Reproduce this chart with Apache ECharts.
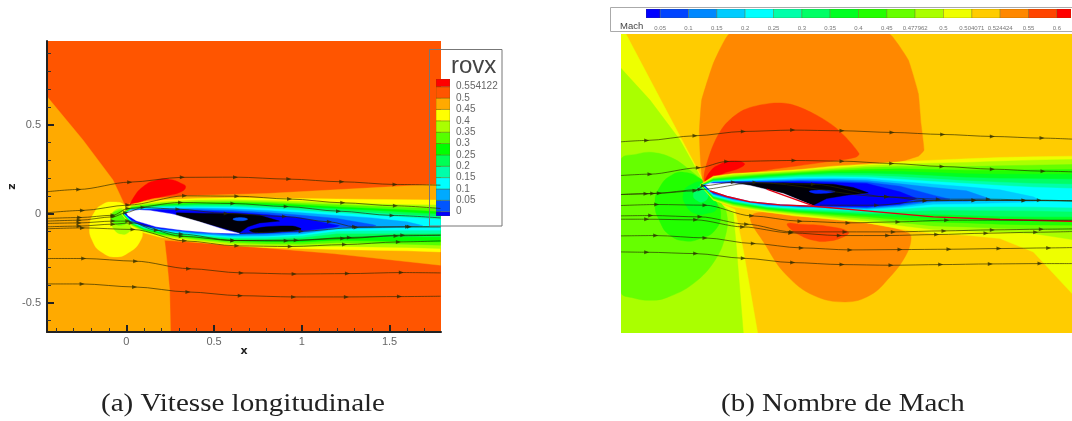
<!DOCTYPE html>
<html><head><meta charset="utf-8">
<script src="https://cdn.jsdelivr.net/npm/echarts@6/dist/echarts.min.js"></script>
<style>html,body{margin:0;padding:0;background:#fff}#c{width:1072px;height:421px}</style>
</head><body><div id="c"></div>
<script>
// ---------- legend levels ----------
const rovxLabels = ['0','0.05','0.1','0.15','0.2','0.25','0.3','0.35','0.4','0.45','0.5','0.554122'];
const machLabels = ['0.05','0.1','0.15','0.2','0.25','0.3','0.35','0.4','0.45','0.477962','0.5','0.504071','0.524424','0.55','0.6'];

// ---------- left panel: rovx contour outlines (x, z) ----------
const lStations = [0.03,0.10,0.20,0.40,0.60,0.80,1.00,1.20,1.40,1.60,1.79];
const lUpYellow = [.054,.068,.077,.086,.090,.088,.086,.083,.081,.079,.077];
const lUpAAFF = [.045,.056,.066,.077,.079,.075,.069,.062,.056,.051,.049];
const lUp55FF = [.038,.049,.058,.068,.069,.066,.058,.051,.043,.036,.030];
const lUp00FF = [.034,.043,.053,.060,.062,.058,.049,.039,.030,.021,.011];
const lUp0F5 = [.030,.039,.047,.054,.054,.049,.039,.028,.019,.008,-.002];
const lUp0FA = [.026,.036,.041,.047,.047,.039,.028,.017,.006,-.006,-.017];
const lUpCyan = [.024,.032,.038,.039,.038,.030,.017,.004,-.008,-.021,-.032];
const lUp0AF = [.023,.028,.032,.032,.028,.019,.006,-.009,-.023,-.045];
const lUp05F = [.021,.024,.026,.024,.019,.008,-.008,-.026,-.060];
const lUp00F = [.019,.023,.023,.017,.009,-.004,-.023,-.064];
const lLoYellow = [-.073,-.107,-.133,-.158,-.180,-.189,-.195,-.201,-.204,-.208,-.214];
const lLoAAFF = [-.066,-.099,-.126,-.150,-.171,-.180,-.184,-.182,-.186,-.189,-.195];
const lLo55FF = [-.062,-.094,-.118,-.143,-.161,-.169,-.171,-.163,-.167,-.171,-.176];
const lLo00FF = [-.056,-.088,-.113,-.135,-.152,-.159,-.159,-.148,-.152,-.156,-.158];
const lLo0F5 = [-.053,-.084,-.107,-.129,-.144,-.150,-.146,-.129,-.129,-.129,-.129];
const lLo0FA = [-.049,-.081,-.101,-.124,-.139,-.141,-.133,-.111,-.111,-.111,-.111];
const lLoCyan = [-.045,-.077,-.096,-.118,-.133,-.131,-.122,-.096,-.094,-.092,-.092];
const lLo0AF = [-.041,-.073,-.090,-.113,-.126,-.124,-.113,-.084,-.081,-.075];
const lLo05F = [-.038,-.069,-.086,-.107,-.118,-.114,-.103,-.077,-.073];
const lLo00F = [-.034,-.066,-.083,-.101,-.113,-.107,-.096,-.073];
const lOrange = [[-.452,.659],[-.247,.415],[-.076,.190],[-.004,.039],[.038,.077],[.342,.101],[.797,.114],[1.79,.167],[1.79,-.289],[1.176,-.223],[.607,-.176],[.218,-.148],[.233,-.280],[.247,-.430],[.252,-.664],[-.452,-.664]];
const lRed = [[.025,.045],[.038,.086],[.095,.152],[.171,.189],[.247,.193],[.313,.171],[.338,.152],[.313,.124],[.228,.101],[.114,.077]];
const lYellowBlob = [[-.080,.066],[-.009,.049],[.066,-.036],[.091,-.092],[.076,-.158],[.019,-.214],[-.061,-.242],[-.142,-.214],[-.190,-.158],[-.209,-.073],[-.180,.011],[-.133,.054]];
const lAAFFBlob = [[-.085,-.045],[-.076,.011],[-.009,.021],[.028,-.073],[.009,-.107],[-.028,-.114],[-.066,-.092]];
const l55FFBlob = [[-.085,-.026],[-.066,.011],[-.004,.011],[.004,-.045],[-.028,-.064],[-.066,-.054]];
const lBlack1 = [[.285,.006],[.455,.002],[.607,.002],[.759,-.008],[.873,-.041],[.759,-.051],[.693,-.073],[.645,-.107],[.417,-.045],[.285,-.008]];
const lBlack2 = [[.702,-.092],[.797,-.073],[.949,-.069],[.996,-.086],[.892,-.099],[.740,-.107]];
const lSpot = [[.607,-.030],[.649,-.021],[.691,-.030],[.649,-.039]];
const lAirfoil = [[0,.006],[.023,.017],[.076,.021],[.133,.019],[.266,-.002],[.417,-.045],[.569,-.092],[.645,-.111],[.493,-.107],[.323,-.092],[.171,-.073],[.057,-.039],[.009,-.009]];
const lStream = [
 [[-.452,.124],[-.271,.137],[.019,.178],[.319,.205],[.622,.206],[.926,.195],[1.228,.180],[1.531,.165],[1.79,.161]],
 [[-.452,.006],[-.250,.019],[.009,.049],[.332,.101],[.630,.099],[.930,.083],[1.233,.062],[1.533,.045],[1.79,.030]],
 [[-.452,-.026],[-.266,-.021],[-.076,-.008],[.009,.030],[.309,.064],[.607,.058],[.911,.041],[1.209,.015],[1.514,-.009],[1.79,-.023]],
 [[-.452,-.041],[-.269,-.036],[-.076,-.017],[-.004,.006],[.095,.036],[.294,.026],[.569,.002],[.901,-.015],[1.157,-.045],[1.300,-.073],[1.603,-.073],[1.79,-.073]],
 [[-.452,-.054],[-.269,-.051],[-.076,-.041],[.009,-.041],[.171,-.092],[.313,-.114],[.607,-.150],[.968,-.148],[1.271,-.133],[1.575,-.120],[1.79,-.120]],
 [[-.452,-.073],[-.269,-.069],[-.076,-.058],[.028,-.051],[.313,-.126],[.607,-.150],[.911,-.152],[1.233,-.139],[1.537,-.124],[1.79,-.120]],
 [[-.452,-.084],[-.250,-.079],[.038,-.088],[.332,-.152],[.630,-.180],[.934,-.184],[1.243,-.173],[1.550,-.158],[1.79,-.152]],
 [[.645,-.111],[.996,-.098],[1.309,-.077],[1.613,-.073],[1.79,-.073]],
 [[-.452,-.251],[-.243,-.251],[.053,-.266],[.355,-.308],[.655,-.332],[.956,-.338],[1.260,-.336],[1.567,-.330],[1.79,-.332]],
 [[-.452,-.394],[-.252,-.394],[.047,-.411],[.351,-.439],[.649,-.460],[.953,-.467],[1.254,-.467],[1.556,-.465],[1.79,-.463]]
];

// ---------- right panel: Mach contour outlines (x, z) ----------
const rStations = [.05,.17,.37,.57,.77,.97,1.17,1.37,1.57,1.77,1.97,2.202];
const rUpEEFF = [.054,.07,.08,.094,.114,.126,.14,.15,.158,.166,.17,.174];
const rUpAAFF = [.046,.062,.074,.086,.102,.116,.126,.132,.136,.144,.15,.154];
const rUp66FF = [.04,.054,.068,.08,.094,.106,.112,.112,.112,.116,.12,.124];
const rUp22FF = [.036,.048,.062,.074,.086,.094,.098,.094,.09,.09,.092,.094];
const rUp0F2 = [.032,.042,.056,.068,.078,.082,.082,.076,.068,.066,.066,.066];
const rUp0F6 = [.028,.036,.05,.062,.07,.07,.066,.056,.046,.04,.038,.036];
const rUp0FA = [.024,.032,.044,.056,.06,.058,.05,.038,.026,.018,.01,.006];
const rUpCyan = [.022,.028,.038,.048,.05,.048,.036,.022,.01,-.002,-.012,-.02];
const rUp0CF = [.02,.024,.032,.04,.042,.038,.022,.006,-.01,-.028,-.07];
const rUp08F = [.018,.022,.026,.032,.034,.028,.008,-.014,-.034];
const rUp04F = [.016,.02,.022,.026,.024,.018,-.006,-.06];
const rUp00F = [.014,.018,.018,.02,.016,.01,-.04];
const rLoEEFF = [-.09,-.13,-.162,-.186,-.206,-.226,-.262,-.29,-.30,-.32,-.40,-.65];
const rLoAAFF = [-.086,-.124,-.156,-.178,-.196,-.214,-.242,-.266,-.274,-.282,-.29,-.326];
const rLo66FF = [-.082,-.118,-.15,-.17,-.186,-.202,-.224,-.244,-.25,-.258,-.264,-.27];
const rLo22FF = [-.078,-.112,-.144,-.164,-.178,-.19,-.208,-.22,-.226,-.234,-.238,-.24];
const rLo0F2 = [-.074,-.108,-.14,-.158,-.17,-.18,-.192,-.20,-.206,-.214,-.218,-.218];
const rLo0F6 = [-.07,-.102,-.134,-.152,-.162,-.172,-.174,-.174,-.18,-.186,-.19,-.19];
const rLo0FA = [-.066,-.098,-.13,-.146,-.154,-.162,-.158,-.15,-.15,-.152,-.154,-.158];
const rLoCyan = [-.062,-.094,-.126,-.14,-.146,-.152,-.142,-.13,-.13,-.128,-.13,-.134];
const rLo0CF = [-.058,-.09,-.122,-.134,-.14,-.146,-.134,-.114,-.112,-.106,-.10];
const rLo08F = [-.054,-.086,-.118,-.13,-.134,-.14,-.126,-.10,-.098];
const rLo04F = [-.05,-.082,-.114,-.126,-.13,-.134,-.118,-.09];
const rLo00F = [-.046,-.078,-.11,-.122,-.126,-.13,-.114];
const rWedge = [[-.504,.906],[-.474,.906],[0,.01],[.09,-.11],[.18,-.146],[.23,-.39],[.316,-.886],[-.504,-.886]];
const rAAFF = [[-.504,.70],[-.33,.51],[-.15,.27],[-.01,.02],[.09,-.11],[.17,-.17],[.19,-.39],[.23,-.886],[-.504,-.886]];
const r66FF = [[-.504,.15],[-.41,.186],[-.31,.196],[-.19,.16],[-.09,.09],[-.01,.02],[.09,-.10],[.13,-.17],[.126,-.29],[.06,-.45],[-.07,-.59],[-.23,-.674],[-.33,-.69],[-.43,-.676],[-.504,-.64]];
const r22FF = [[-.30,-.11],[-.27,-.01],[-.20,.06],[-.12,.076],[-.03,.04],[0,.006],[.06,-.09],[.094,-.17],[.06,-.27],[-.03,-.32],[-.12,-.334],[-.21,-.30],[-.27,-.22]];
const r0F2 = [[-.13,-.05],[-.09,0],[-.01,.014],[.05,-.07],[.07,-.14],[.01,-.17],[-.06,-.17],[-.114,-.12]];
const r0F6 = [[-.07,-.06],[-.04,-.01],[0,0],[.02,-.06],[-.01,-.10],[-.05,-.09]];
const rDome = [[.146,.906],[.05,.73],[-.02,.51],[-.034,.31],[-.006,.014],[.57,.07],[1.13,.13],[1.28,.174],[1.314,.21],[1.296,.37],[1.28,.55],[1.22,.75],[1.106,.906]];
const rDome2 = [[0,.02],[.03,.19],[.11,.35],[.23,.45],[.39,.49],[.51,.486],[.65,.43],[.79,.34],[.924,.19],[.90,.166],[.73,.14],[.37,.09],[.17,.06]];
const rRed = [[.006,.02],[.03,.08],[.09,.126],[.17,.146],[.236,.13],[.21,.104],[.11,.07]];
const rLow = [[.28,-.18],[.37,-.37],[.49,-.54],[.65,-.66],[.84,-.70],[.99,-.66],[1.11,-.55],[1.20,-.43],[1.236,-.33],[1.22,-.286],[.97,-.226],[.57,-.19]];
const rLow2 = [[.496,-.23],[.57,-.234],[.73,-.246],[.86,-.28],[.83,-.31],[.73,-.336],[.65,-.33],[.57,-.30],[.51,-.26]];
const rBlack = [[.17,.01],[.47,.014],[.77,.006],[.89,-.014],[.98,-.046],[.85,-.06],[.73,-.08],[.65,-.12],[.47,-.05],[.27,-.002]];
const rSpot = [[.626,-.036],[.73,-.03],[.78,-.04],[.67,-.05]];
const rAirfoil = [[0,0],[.03,.012],[.17,.012],[.27,-.002],[.47,-.05],[.65,-.124],[.45,-.114],[.27,-.096],[.13,-.064],[.03,-.03]];
const rRedLine = [[.03,-.034],[.13,-.068],[.27,-.10],[.45,-.118],[.65,-.126],[.97,-.154],[1.37,-.19],[1.77,-.206],[2.202,-.216]];
const rRedLine2 = [[.37,-.024],[.65,-.124]];
const rStream = [
 [[-.504,.26],[-.35,.268],[-.06,.296],[.23,.322],[.526,.33],[.822,.326],[1.122,.316],[1.426,.304],[1.724,.292],[2.022,.282],[2.202,.276]],
 [[-.504,.058],[-.33,.066],[-.04,.104],[.13,.142],[.534,.148],[.822,.144],[1.12,.13],[1.422,.112],[1.724,.096],[2.028,.084],[2.202,.08]],
 [[-.504,-.056],[-.354,-.052],[-.274,-.048],[-.06,-.034],[-.01,-.004],[.17,.018],[.65,.006],[1.09,-.07],[1.322,-.092],[1.614,-.092],[1.914,-.092],[2.202,-.094]],
 [[-.504,-.056],[-.314,-.05],[-.03,-.026],[.30,.016],[1.09,-.07],[1.40,-.084],[1.70,-.084],[2.006,-.09],[2.202,-.094]],
 [[-.504,-.122],[-.29,-.116],[0,-.12],[.28,-.184],[.57,-.216],[.858,-.226],[1.158,-.22],[1.45,-.21],[2.202,-.21]],
 [[-.504,-.184],[-.326,-.182],[-.03,-.19],[.25,-.234],[.52,-.28],[.84,-.28],[1.13,-.28],[1.434,-.274],[1.724,-.268],[2.018,-.264],[2.202,-.262]],
 [[-.504,-.204],[-.35,-.204],[-.056,-.208],[.226,-.25],[.514,-.286],[.806,-.302],[1.096,-.302],[1.39,-.296],[1.686,-.288],[1.984,-.282],[2.202,-.278]],
 [[-.504,-.304],[-.296,-.302],[0,-.316],[.29,-.35],[.578,-.376],[.87,-.388],[1.17,-.386],[1.464,-.384],[1.764,-.38],[2.062,-.376],[2.202,-.374]],
 [[-.504,-.40],[-.35,-.402],[-.056,-.41],[.23,-.438],[.526,-.464],[.822,-.476],[1.116,-.48],[1.414,-.476],[1.712,-.472],[2.01,-.47],[2.202,-.47]],
 [[.69,-.12],[1.03,-.12],[1.32,-.094],[1.614,-.09],[1.914,-.092],[2.202,-.094]]
];

// ---------- colours ----------
const rovxColors = ['#0000ff','#0055ff','#00aaff','#00ffff','#00ffaa','#00ff55','#00ff00','#55ff00','#aaff00','#ffff00','#ffaa00','#ff5500','#ff0000'];
const machColors = ['#0000ff','#0044ff','#0088ff','#00ccff','#00ffff','#00ffaa','#00ff66','#00ff22','#22ff00','#66ff00','#aaff00','#eeff00','#ffcc00','#ff8800','#ff4400','#ff0000'];

// ---------- helpers ----------
function band(st, noseX, up, lo, tip) {
  const pts = [[noseX, up[0] * 0.2 + lo[0] * 0.1]];
  up.forEach((v, i) => pts.push([st[i], v]));
  if (tip) pts.push(tip);
  for (let i = lo.length - 1; i >= 0; i--) pts.push([st[i], lo[i]]);
  return pts;
}
const series = [];
let zc = 1;
function poly(axis, pts, fill, smooth, stroke) {
  const z = zc++;
  series.push({
    type: 'custom', coordinateSystem: 'cartesian2d', xAxisIndex: axis, yAxisIndex: axis,
    clip: true, silent: true, z, data: pts, animation: false,
    renderItem(params, api) {
      if (params.dataIndex !== 0) return null;
      return { type: 'polygon', shape: { points: pts.map(p => api.coord(p)), smooth: smooth || 0 },
        style: { fill, stroke: stroke || fill, lineWidth: stroke ? 1 : 0.4 } };
    }
  });
}
function stream(axis, pts) {
  series.push({
    type: 'line', xAxisIndex: axis, yAxisIndex: axis, z: 500, smooth: 0.3, smoothMonotone: 'x', silent: true, animation: false,
    lineStyle: { color: 'rgba(40,40,0,0.72)', width: 0.9 }, itemStyle: { color: 'rgba(40,40,0,0.72)' },
    symbolRotate: -90, symbolSize: [4, 5], symbol: 'triangle', clip: true,
    data: pts.map((p, i) => (i === 0 || i === pts.length - 1) ? { value: p, symbol: 'none' } : p)
  });
}

// ---------- left panel ----------
const LX = 0, RX = 1, LL = 2, RL = 3;
poly(LX, [[-.452,.971],[1.793,.971],[1.793,-.664],[-.452,-.664]], rovxColors[11]);
poly(LX, lOrange, rovxColors[10]);
poly(LX, lRed, rovxColors[12], 0.5);
poly(LX, lYellowBlob, rovxColors[9], 0.5);
poly(LX, lAAFFBlob, rovxColors[8], 0.5);
poly(LX, l55FFBlob, rovxColors[7], 0.5);
[[lUpYellow,lLoYellow,9,-.03],[lUpAAFF,lLoAAFF,8,-.026],[lUp55FF,lLo55FF,7,-.023],[lUp00FF,lLo00FF,6,-.02],[lUp0F5,lLo0F5,5,-.018],
 [lUp0FA,lLo0FA,4,-.016],[lUpCyan,lLoCyan,3,-.014]].forEach(b => poly(LX, band(lStations, b[3], b[0], b[1]), rovxColors[b[2]]));
poly(LX, band(lStations, -.012, lUp0AF, lLo0AF, [1.689,-.066]), rovxColors[2]);
poly(LX, band(lStations, -.010, lUp05F, lLo05F, [1.423,-.066]), rovxColors[1]);
poly(LX, band(lStations, -.008, lUp00F, lLo00F, [1.214,-.066]), rovxColors[0]);
poly(LX, lBlack1, '#000008');
poly(LX, lBlack2, '#000008', 0.3);
poly(LX, lSpot, rovxColors[1], 0.5);
poly(LX, lAirfoil, '#ffffff');
lStream.forEach(s => stream(LX, s));

// ---------- right panel ----------
poly(RX, [[-.504,.906],[2.202,.906],[2.202,-.886],[-.504,-.886]], machColors[12]);
poly(RX, rWedge, machColors[11]);
poly(RX, rAAFF, machColors[10]);
poly(RX, r66FF, machColors[9], 0.4);
poly(RX, r22FF, machColors[8], 0.5);
poly(RX, r0F2, machColors[7], 0.5);
poly(RX, r0F6, machColors[6], 0.5);
poly(RX, rDome, machColors[13], 0.1);
poly(RX, rDome2, machColors[14], 0.3);
poly(RX, rRed, machColors[15], 0.5);
poly(RX, rLow, machColors[13], 0.4);
poly(RX, rLow2, machColors[14], 0.5);
[[rUpEEFF,rLoEEFF,11,-.03],[rUpAAFF,rLoAAFF,10,-.027],[rUp66FF,rLo66FF,9,-.024],[rUp22FF,rLo22FF,8,-.022],[rUp0F2,rLo0F2,7,-.02],
 [rUp0F6,rLo0F6,6,-.018],[rUp0FA,rLo0FA,5,-.016],[rUpCyan,rLoCyan,4,-.014]].forEach(b => poly(RX, band(rStations, b[3], b[0], b[1]), machColors[b[2]]));
poly(RX, band(rStations, -.012, rUp0CF, rLo0CF, [2.01,-.09]), machColors[3]);
poly(RX, band(rStations, -.010, rUp08F, rLo08F, [1.71,-.082]), machColors[2]);
poly(RX, band(rStations, -.008, rUp04F, rLo04F, [1.47,-.084]), machColors[1]);
poly(RX, band(rStations, -.006, rUp00F, rLo00F, [1.27,-.08]), machColors[0]);
poly(RX, rBlack, '#000008');
poly(RX, rSpot, '#0022ff', 0.4);
poly(RX, rAirfoil, '#ffffff');
[rRedLine, rRedLine2].forEach(l => series.push({ type: 'line', xAxisIndex: RX, yAxisIndex: RX, z: 400, symbol: 'none', silent: true, animation: false,
  lineStyle: { color: '#e00010', width: 1.4 }, data: l }));
rStream.forEach(s => stream(RX, s));

// ---------- legends ----------
rovxColors.forEach((c, i) => poly(LL, [[0, i === 0 ? -.38 : i - 1], [1, i === 0 ? -.38 : i - 1], [1, i === 12 ? 11.68 : i], [0, i === 12 ? 11.68 : i]], c, 0, 'rgba(90,90,0,0.35)'));
machColors.forEach((c, i) => poly(RL, [[i === 0 ? -.5 : i - 1, 0], [i === 15 ? 14.5 : i, 0], [i === 15 ? 14.5 : i, 1], [i === 0 ? -.5 : i - 1, 1]], c, 0, 'rgba(90,90,0,0.3)'));

const hidden = { show: false, axisLine: { show: false, onZero: false }, axisTick: { show: false }, splitLine: { show: false }, axisLabel: { show: false } };
const axLine = { show: true, onZero: false, lineStyle: { color: '#222', width: 2 } };
const xTicks = [0, 0.5, 1, 1.5], yTicks = [-0.5, 0, 0.5];
const xMinor = [-.4,-.3,-.2,-.1,.1,.2,.3,.4,.6,.7,.8,.9,1.1,1.2,1.3,1.4,1.6,1.7];
const yMinor = [-.6,-.4,-.3,-.2,-.1,.1,.2,.3,.4,.6,.7,.8,.9];
const fnt = 'Liberation Sans';

const option = {
  animation: false,
  backgroundColor: '#fff',
  grid: [
    { left: 47, top: 41, width: 394, height: 291 },
    { left: 621, top: 34, width: 451, height: 299 },
    { left: 436, top: 79, width: 14, height: 137 },
    { left: 646, top: 9, width: 425, height: 9 }
  ],
  xAxis: [
    { gridIndex: 0, type: 'value', z: 800, position: 'bottom', min: -.452, max: 1.793, splitLine: { show: false }, axisLine: axLine,
      axisTick: { show: true, inside: true, length: 7, customValues: xTicks, lineStyle: { color: '#222', width: 2 } },
      axisLabel: { customValues: xTicks, color: '#666', fontSize: 11, fontFamily: fnt, margin: 4, formatter: v => String(v) },
      name: 'x', nameLocation: 'middle', nameGap: 14, nameMoveOverlap: false, nameTextStyle: { fontFamily: 'DejaVu Sans', fontWeight: 'bold', fontSize: 11, color: '#222' } },
    { gridIndex: 1, type: 'value', min: -.504, max: 2.202, ...hidden },
    { gridIndex: 2, type: 'value', min: 0, max: 1, ...hidden },
    { gridIndex: 3, type: 'value', min: -.5, max: 14.5, show: true, position: 'bottom', splitLine: { show: false }, axisLine: { show: false }, axisTick: { show: false },
      axisLabel: { customValues: machLabels.map((_, i) => i), color: '#777', fontSize: 6, fontFamily: fnt, margin: 7, formatter: v => machLabels[v] } },
    { gridIndex: 0, type: 'value', z: 800, position: 'bottom', min: -.452, max: 1.793, splitLine: { show: false }, axisLine: { show: false, onZero: false },
      axisTick: { show: true, inside: true, length: 4, customValues: xMinor, lineStyle: { color: '#333', width: 1 } }, axisLabel: { show: false } }
  ],
  yAxis: [
    { gridIndex: 0, type: 'value', z: 800, position: 'left', min: -.664, max: .971, splitLine: { show: false }, axisLine: axLine,
      axisTick: { show: true, inside: true, length: 7, customValues: yTicks, lineStyle: { color: '#222', width: 2 } },
      axisLabel: { customValues: yTicks, color: '#666', fontSize: 11, fontFamily: fnt, margin: 6, formatter: v => String(v) },
      name: 'z', nameLocation: 'middle', nameGap: 29, nameMoveOverlap: false, nameTextStyle: { fontFamily: 'DejaVu Sans', fontWeight: 'bold', fontSize: 11, color: '#222' } },
    { gridIndex: 1, type: 'value', min: -.886, max: .906, ...hidden },
    { gridIndex: 2, type: 'value', position: 'right', min: -.38, max: 11.68, show: true, splitLine: { show: false }, axisLine: { show: false }, axisTick: { show: false },
      axisLabel: { customValues: rovxLabels.map((_, i) => i), color: '#666', fontSize: 10, fontFamily: fnt, margin: 6, padding: [2, 0, 0, 0], formatter: v => rovxLabels[v] } },
    { gridIndex: 3, type: 'value', min: 0, max: 1, ...hidden },
    { gridIndex: 0, type: 'value', z: 800, position: 'left', min: -.664, max: .971, splitLine: { show: false }, axisLine: { show: false, onZero: false },
      axisTick: { show: true, inside: true, length: 4, customValues: yMinor, lineStyle: { color: '#333', width: 1 } }, axisLabel: { show: false } }
  ],
  graphic: [
    { type: 'rect', z: 900, silent: true, shape: { x: 429.5, y: 49.5, width: 72.5, height: 176.5 }, style: { fill: 'none', stroke: '#777', lineWidth: 1 } },
    { type: 'rect', z: 900, silent: true, shape: { x: 610.5, y: 7.5, width: 470, height: 24 }, style: { fill: 'none', stroke: '#aaa', lineWidth: 1 } },
    { type: 'text', z: 900, silent: true, style: { x: 451, y: 54, text: 'rovx', font: '24px "Liberation Sans"', fill: '#444' } },
    { type: 'text', z: 900, silent: true, style: { x: 620, y: 21, text: 'Mach', font: '9.5px "Liberation Sans"', fill: '#444' } },
    { type: 'text', z: 900, silent: true, x: 101, y: 391, scaleX: 1.118, style: { x: 0, y: 0, text: '(a) Vitesse longitudinale', font: '26px "Liberation Serif"', fill: '#222' } },
    { type: 'text', z: 900, silent: true, x: 721, y: 391, scaleX: 1.114, style: { x: 0, y: 0, text: '(b) Nombre de Mach', font: '26px "Liberation Serif"', fill: '#222' } }
  ],
  series
};
echarts.init(document.getElementById('c'), null, { renderer: 'canvas' }).setOption(option);
</script></body></html>
